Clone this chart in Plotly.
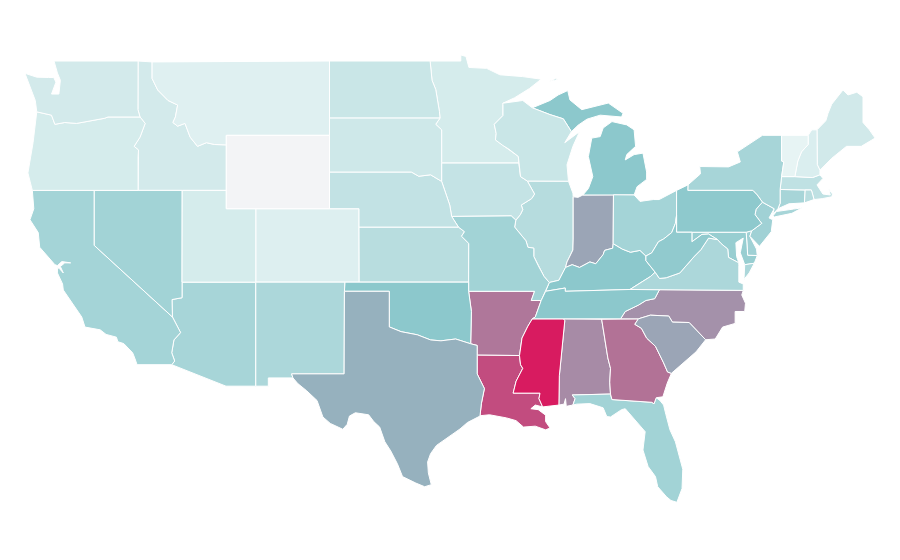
import plotly.graph_objects as go
from plotly.colors import sample_colorscale

states = ["AL","AZ","AR","CA","CO","CT","DE","FL","GA","ID","IL","IN","IA","KS","KY","LA","ME","MD","MA","MI","MN","MS","MO","MT","NE","NV","NH","NJ","NM","NY","NC","ND","OH","OK","OR","PA","RI","SC","SD","TN","TX","UT","VT","VA","WA","WV","WI","WY"]
rates = [61,29,68,30,7,29,32,31,70,11,23,52,17,22,40,83,12,35,19,40,10,100,31,6,18,31,8,32,27,29,59,15,30,40,10,39,22,52,13,40,48,10,3,27,11,38,15,0]

colorscale = [[0,"#f3f4f6"],[0.02,"#e9f5f5"],[0.4,"#8cc8cc"],[1,"#d81b60"]]

# shared borders, lon/lat
miss_mn_wi = [(-92.29,46.66),(-92.29,46.08),(-92.88,45.6),(-92.75,45.1),(-92.8,44.75),(-92.3,44.45),(-91.9,44.25),(-91.25,43.85),(-91.22,43.5)]
miss_ia_wi = [(-91.22,43.5),(-91.1,42.75),(-90.64,42.51)]
miss_ia_il = [(-90.64,42.51),(-90.15,41.8),(-90.35,41.55),(-91.05,41.2),(-90.95,40.95),(-91.12,40.67),(-91.42,40.38)]
miss_mo_il = [(-91.42,40.38),(-91.5,40.0),(-90.73,39.25),(-90.6,38.9),(-90.2,38.85),(-90.2,38.4),(-89.9,37.9),(-89.5,37.3),(-89.15,36.98)]
miss_tn_ar = [(-89.7,36.0),(-90.1,35.1),(-90.3,35.0)]
miss_ms_ar = [(-90.3,35.0),(-90.6,34.6),(-91.0,33.95),(-91.17,33.0)]
miss_ms_la = [(-91.17,33.0),(-91.1,32.5),(-90.95,32.3),(-91.4,31.6),(-91.6,30.95),(-89.78,30.95),(-89.85,30.65),(-89.6,30.2)]
ohio_il_ky = [(-89.15,36.98),(-88.5,37.1),(-88.05,37.8)]
ohio_in_ky = [(-88.05,37.8),(-87.6,37.95),(-87.1,37.8),(-86.4,38.1),(-86.0,38.0),(-85.5,38.5),(-85.4,38.73),(-84.85,38.85),(-84.82,39.1)]
ohio_oh_ky = [(-84.82,39.1),(-84.2,38.8),(-83.65,38.63),(-83.0,38.73),(-82.6,38.42)]
ohio_oh_wv = [(-82.6,38.42),(-82.2,38.6),(-81.75,39.2),(-81.4,39.35),(-80.85,39.7),(-80.6,40.2),(-80.52,40.64)]
wabash = [(-88.05,37.8),(-87.95,38.1),(-87.55,38.75),(-87.53,39.35),(-87.53,41.65)]
missouri_ne_ia = [(-96.45,42.49),(-96.1,41.7),(-95.9,41.2),(-95.77,40.58)]
missouri_ne_mo = [(-95.77,40.58),(-95.31,40.0)]
missouri_ks_mo = [(-95.31,40.0),(-94.9,39.75),(-95.1,39.5),(-94.61,39.11),(-94.62,37.0)]
columbia = [(-116.9,46.0),(-119.07,46.0),(-119.3,45.93),(-120.1,45.8),(-121.2,45.65),(-122.0,45.7),(-122.67,45.6),(-122.9,46.1),(-123.5,46.2),(-123.9,46.28)]
snake = [(-117.03,42.0),(-117.03,43.83),(-117.0,44.2),(-117.3,44.4),(-116.9,44.9),(-116.55,45.65),(-116.9,46.0)]
colorado = [(-114.05,36.15),(-114.73,36.05),(-114.7,35.1),(-114.15,34.25),(-114.6,33.85),(-114.75,33.15),(-114.55,32.7),(-114.75,32.5)]
red_river = [(-100.0,34.56),(-99.2,34.3),(-98.1,34.13),(-97.2,33.85),(-96.5,33.8),(-95.5,33.9),(-94.48,33.64)]
savannah = [(-83.11,35.0),(-83.35,34.7),(-82.9,34.48),(-82.55,33.95),(-81.95,33.5),(-81.4,32.6),(-81.13,32.1),(-80.87,32.03)]
id_mt = [(-116.08,49.0),(-116.08,48.1),(-115.7,47.47),(-115.0,46.9),(-114.35,46.65),(-114.5,46.0),(-114.67,45.7),(-114.35,45.5),(-113.85,45.65),(-113.5,44.9),(-113.0,44.4),(-112.4,44.6),(-111.85,44.5),(-111.05,44.48)]
smokies = [(-84.32,35.0),(-84.0,35.4),(-83.1,35.75),(-82.6,36.0),(-82.0,36.1),(-81.68,36.59)]
nc_sc = [(-83.11,35.0),(-82.3,35.2),(-81.05,35.15),(-80.8,34.82),(-79.67,34.8),(-78.55,33.86)]
va_wv = [(-77.75,39.32),(-78.35,39.4),(-78.87,38.77),(-79.3,38.42),(-80.3,37.5),(-81.22,37.24),(-81.68,37.2),(-81.97,37.54)]
md_wv = [(-79.48,39.72),(-79.48,39.2),(-78.8,39.6),(-78.35,39.62),(-77.75,39.32)]
potomac = [(-77.75,39.32),(-77.5,39.1),(-77.05,38.8),(-77.0,38.35),(-76.3,38.05)]
ky_wv = [(-81.97,37.54),(-82.6,38.17),(-82.6,38.42)]
ky_va = [(-83.68,36.6),(-83.1,36.9),(-82.3,37.3),(-81.97,37.54)]
delaware_river = [(-74.7,41.36),(-75.13,40.97),(-75.2,40.68),(-74.75,40.2),(-75.42,39.8)]
ny_pa = [(-79.75,42.3),(-79.76,42.0),(-75.35,42.0),(-75.05,41.75),(-74.7,41.36)]
vt_nh = [(-71.6,45.0),(-71.6,44.5),(-72.05,44.1),(-72.3,43.6),(-72.5,42.75)]
mi_wi = [(-90.3,46.5),(-89.1,46.13),(-88.2,45.9),(-87.95,45.55),(-87.65,45.2)]

outlines = {
    "WA": [[(-124.7,48.38),(-123.9,48.17),(-123.1,48.15),(-122.75,48.15),(-122.6,47.9),(-122.9,47.25),(-122.4,47.25),(-122.35,47.7),(-122.3,48.0),(-122.5,48.4),(-122.73,49.05),(-117.03,49.05),(-117.04,46.4)] + columbia + [(-124.0,46.9),(-124.2,47.3)]],
    "OR": [columbia[::-1] + snake[::-1] + [(-124.2,42.0),(-124.5,42.95),(-124.15,44.6),(-123.95,46.0)]],
    "ID": [[(-117.03,49.05)] + id_mt + [(-111.05,42.0)] + snake + [(-117.04,46.4)]],
    "MT": [id_mt + [(-111.05,45.0),(-104.05,45.0),(-104.05,49.05)]],
    "WY": [[(-111.05,45.0),(-104.05,45.0),(-104.05,41.0),(-111.05,41.0)]],
    "ND": [[(-104.05,49.05),(-97.23,49.05),(-97.1,48.0),(-96.85,47.5),(-96.6,46.3),(-96.56,45.94),(-104.05,45.94)]],
    "SD": [[(-104.05,45.94),(-96.56,45.94),(-96.85,45.6),(-96.45,45.3),(-96.45,43.5),(-96.45,42.49),(-97.2,42.85),(-98.0,42.77),(-98.5,43.0),(-104.05,43.0)]],
    "NE": [[(-104.05,43.0),(-98.5,43.0),(-98.0,42.77),(-97.2,42.85)] + missouri_ne_ia + missouri_ne_mo + [(-102.05,40.0),(-102.05,41.0),(-104.05,41.0)]],
    "KS": [missouri_ks_mo + [(-102.04,37.0),(-102.05,40.0)]],
    "CO": [[(-109.05,41.0),(-102.05,41.0),(-102.05,40.0),(-102.04,37.0),(-103.0,37.0),(-109.05,37.0)]],
    "UT": [[(-114.04,42.0),(-111.05,42.0),(-111.05,41.0),(-109.05,41.0),(-109.05,37.0),(-114.05,37.0)]],
    "NV": [[(-120.0,42.0),(-114.04,42.0),(-114.05,37.0)] + colorado[:3] + [(-120.0,39.0)]],
    "CA": [[(-124.2,42.0),(-120.0,42.0),(-120.0,39.0)] + colorado[2:] + [(-117.1,32.5),(-117.25,32.85),(-117.4,33.15),(-118.0,33.65),(-118.4,33.75),(-118.5,34.0),(-119.2,34.15),(-119.6,34.4),(-120.63,34.55),(-120.85,35.1),(-121.9,36.3),(-122.1,36.57),(-122.15,36.9),(-122.5,37.5),(-122.5,37.78),(-122.38,37.75),(-122.1,37.5),(-122.3,37.85),(-122.0,38.05),(-121.6,38.05),(-122.2,38.12),(-122.5,37.9),(-122.67,37.95),(-123.7,38.9),(-123.8,39.7),(-124.36,40.4),(-124.1,41.0)]],
    "AZ": [[(-114.05,37.0),(-109.05,37.0),(-109.05,31.33),(-111.07,31.33)] + colorado[::-1]],
    "NM": [[(-109.05,37.0),(-103.0,37.0),(-103.04,36.5),(-103.06,32.0),(-106.62,32.0),(-106.53,31.78),(-108.2,31.78),(-108.2,31.33),(-109.05,31.33)]],
    "TX": [[(-106.62,32.0),(-103.06,32.0),(-103.04,36.5),(-100.0,36.5)] + red_river + [(-94.04,33.55),(-94.04,33.02),(-94.04,32.0),(-93.55,31.2),(-93.75,30.4),(-93.85,29.7),(-94.7,29.35),(-95.2,29.0),(-96.0,28.55),(-96.8,28.1),(-97.2,27.65),(-97.4,27.2),(-97.35,26.6),(-97.15,25.96),(-97.6,25.85),(-98.2,26.05),(-99.1,26.4),(-99.45,27.1),(-99.9,27.8),(-100.3,28.3),(-100.65,29.1),(-101.05,29.4),(-101.4,29.77),(-102.3,29.88),(-102.7,29.7),(-102.85,29.25),(-103.15,28.98),(-104.0,29.3),(-104.5,29.65),(-104.9,30.55),(-105.6,31.08),(-106.2,31.47),(-106.53,31.78)]],
    "OK": [[(-103.0,37.0),(-102.04,37.0),(-94.62,37.0),(-94.62,36.5),(-94.43,35.4)] + red_river[::-1] + [(-100.0,36.5),(-103.04,36.5)]],
    "MO": [[(-95.77,40.58),(-91.73,40.61)] + miss_mo_il + [(-89.4,36.5),(-89.7,36.0),(-90.37,36.0),(-90.15,36.5),(-94.62,36.5)] + missouri_ks_mo[::-1] + missouri_ne_mo[::-1]],
    "AR": [[(-94.62,36.5),(-90.15,36.5),(-90.37,36.0)] + miss_tn_ar + miss_ms_ar + [(-94.04,33.02),(-94.04,33.55),(-94.48,33.64),(-94.43,35.4)]],
    "LA": [[(-94.04,33.02)] + miss_ms_la + [(-90.1,30.3),(-90.4,30.1),(-89.9,30.05),(-89.65,29.9),(-89.4,29.75),(-89.4,29.4),(-89.1,29.05),(-89.4,28.95),(-90.1,29.15),(-90.9,29.1),(-91.4,29.45),(-92.05,29.6),(-93.2,29.77),(-93.85,29.72),(-93.75,30.4),(-93.55,31.2),(-94.04,32.0)]],
    "MS": [miss_ms_ar + miss_ms_la[1:] + [(-88.5,30.3),(-88.47,31.9),(-88.1,34.9),(-88.2,35.0)]],
    "AL": [[(-88.2,35.0),(-85.6,34.98),(-85.18,32.87),(-85.0,32.3),(-85.05,31.55),(-85.0,30.9),(-87.6,30.85),(-87.4,30.65),(-87.55,30.3),(-88.0,30.23),(-88.05,30.65),(-88.15,30.35),(-88.5,30.3),(-88.47,31.9),(-88.1,34.9)]],
    "GA": [[(-85.6,34.98),(-84.32,35.0)] + savannah + [(-81.15,31.5),(-81.45,30.75),(-81.9,30.7),(-82.05,30.37),(-82.2,30.45),(-84.9,30.6),(-85.0,30.9),(-85.05,31.55),(-85.0,32.3),(-85.18,32.87)]],
    "FL": [[(-87.6,30.85),(-85.0,30.9),(-84.9,30.6),(-82.2,30.45),(-82.05,30.37),(-81.9,30.7),(-81.65,30.55),(-81.4,30.3),(-81.25,29.8),(-80.97,28.95),(-80.6,28.3),(-80.35,27.5),(-80.1,26.8),(-80.15,25.75),(-80.5,25.0),(-80.9,25.1),(-81.2,25.3),(-81.8,25.85),(-81.95,26.4),(-82.45,26.95),(-82.8,27.85),(-82.65,28.85),(-83.4,29.55),(-84.0,30.1),(-84.25,30.05),(-85.0,29.65),(-85.25,29.67),(-85.5,30.15),(-86.4,30.38),(-87.3,30.35),(-87.55,30.3),(-87.4,30.65)]],
    "SC": [nc_sc + [(-79.2,33.2),(-79.9,32.7),(-80.45,32.35)] + savannah[::-1]],
    "NC": [[(-84.32,35.0)] + nc_sc + [(-77.9,33.9),(-77.4,34.55),(-76.55,34.75),(-76.55,35.4),(-75.9,35.4),(-75.85,35.85),(-76.1,36.3),(-76.0,36.55)] + smokies[::-1]],
    "TN": [[(-90.3,35.0),(-88.2,35.0),(-85.6,34.98)] + smokies + [(-83.68,36.6),(-88.07,36.5),(-88.07,36.68),(-89.4,36.5)] + miss_tn_ar],
    "KY": [[(-89.4,36.5),(-88.07,36.68),(-88.07,36.5)] + ky_va + ky_wv + ohio_oh_ky[::-1] + ohio_in_ky[::-1] + ohio_il_ky[::-1]],
    "IL": [[(-90.64,42.51),(-87.85,42.5),(-87.55,41.85)] + wabash[::-1] + ohio_il_ky[::-1] + miss_mo_il[::-1] + miss_ia_il[::-1]],
    "IN": [[(-87.53,41.65),(-87.2,41.62),(-86.87,41.75),(-84.8,41.76)] + ohio_in_ky[::-1] + wabash],
    "OH": [[(-84.8,41.76),(-83.4,41.75),(-83.0,41.4),(-82.1,41.5),(-81.7,41.5),(-80.52,42.0)] + ohio_oh_wv[::-1] + ohio_oh_ky[::-1]],
    "MI": [[(-86.87,41.75),(-84.8,41.76),(-83.4,41.75),(-83.2,42.2),(-82.55,42.6),(-82.55,43.0),(-82.8,44.03),(-83.4,43.95),(-84.0,43.66),(-83.9,43.95),(-83.3,44.4),(-83.4,45.3),(-83.9,45.57),(-84.9,45.75),(-85.5,45.4),(-85.7,44.93),(-86.27,44.85),(-86.5,43.84),(-86.2,42.75),(-86.5,42.1)],
           mi_wi + [(-87.2,45.55),(-86.6,45.88),(-85.7,46.1),(-84.25,46.0),(-84.15,46.2),(-85.15,46.76),(-86.95,46.4),(-87.75,46.93),(-87.9,47.44),(-88.55,47.2),(-89.1,46.9)],
           [(-89.15,47.93),(-88.7,48.1),(-88.6,48.05)]],
    "WI": [[(-92.29,46.66),(-92.3,46.75),(-91.2,46.87),(-90.95,46.9)] + mi_wi + [(-88.1,44.6),(-87.1,45.2),(-87.55,44.4),(-87.95,43.4),(-87.85,42.5)] + miss_ia_wi[::-1] + miss_mn_wi[::-1]],
    "MN": [[(-97.23,49.05),(-95.15,49.05),(-95.15,49.38),(-94.8,49.3),(-94.6,48.7),(-93.4,48.65),(-92.5,48.3),(-90.95,48.2),(-89.7,48.06),(-90.5,47.55),(-91.5,47.05),(-92.3,46.75)] + miss_mn_wi + [(-96.45,43.5),(-96.45,45.3),(-96.85,45.6),(-96.56,45.94),(-96.6,46.3),(-96.85,47.5),(-97.1,48.0)]],
    "IA": [[(-96.45,43.5)] + miss_ia_wi + miss_ia_il[1:] + [(-91.73,40.61)] + missouri_ne_ia[::-1]],
    "NY": [ny_pa + [(-73.9,41.0),(-74.0,40.7),(-73.65,41.0),(-73.5,41.3),(-73.5,42.05),(-73.4,42.75),(-73.25,43.55),(-73.4,43.6),(-73.4,45.0),(-74.7,45.0),(-75.8,44.4),(-76.4,44.1),(-76.2,43.55),(-77.0,43.28),(-78.95,43.3),(-78.9,42.9)],
           [(-74.0,40.6),(-73.75,40.85),(-72.6,40.98),(-72.0,41.05),(-72.7,40.75),(-73.9,40.55)]],
    "PA": [[(-80.52,42.0)] + ny_pa + delaware_river[1:] + [(-75.8,39.72),(-79.48,39.72),(-80.52,39.72)]],
    "NJ": [[(-74.7,41.36),(-73.9,41.0),(-74.25,40.5),(-74.0,40.4),(-74.1,39.75),(-74.9,38.95),(-75.55,39.5)] + delaware_river[::-1][:-1]],
    "DE": [[(-75.8,39.72),(-75.42,39.8),(-75.55,39.5),(-75.1,38.8),(-75.05,38.45),(-75.7,38.46)]],
    "MD": [[(-79.48,39.72),(-75.8,39.72),(-75.7,38.46),(-75.05,38.45),(-75.25,38.03),(-75.9,37.95),(-76.2,38.6),(-76.0,39.4),(-76.5,39.15),(-76.45,38.4)] + potomac[::-1] + md_wv[::-1]],
    "WV": [ohio_oh_wv + [(-80.52,39.72)] + md_wv + va_wv + ky_wv],
    "VA": [ky_va + va_wv[::-1] + potomac[1:] + [(-76.3,37.9),(-76.3,37.0),(-76.0,36.9),(-76.0,36.55)],
           [(-75.25,38.03),(-75.9,37.95),(-75.95,37.15),(-75.6,37.5)]],
    "CT": [[(-73.65,41.0),(-73.5,41.3),(-73.5,42.05),(-71.8,42.02),(-71.85,41.32),(-72.9,41.27)]],
    "RI": [[(-71.8,42.02),(-71.38,42.02),(-71.2,41.5),(-71.85,41.32)]],
    "MA": [[(-73.5,42.05),(-73.4,42.75),(-72.5,42.75),(-71.3,42.7),(-70.8,42.85),(-70.6,42.65),(-71.0,42.3),(-70.6,41.8),(-70.1,41.75),(-70.2,42.07),(-69.95,41.8),(-70.0,41.65),(-70.65,41.55),(-71.2,41.5),(-71.38,42.02),(-71.8,42.02)]],
    "VT": [[(-73.4,45.0)] + vt_nh + [(-73.4,42.75),(-73.25,43.55),(-73.4,43.6)]],
    "NH": [[(-71.6,45.0),(-71.35,45.3),(-71.0,45.3),(-70.98,43.4),(-70.8,43.1),(-70.8,42.85),(-71.3,42.7)] + vt_nh[::-1]],
    "ME": [[(-71.0,45.3),(-70.4,45.8),(-70.25,46.2),(-70.0,46.7),(-69.24,47.47),(-68.9,47.2),(-68.3,47.35),(-67.88,47.1),(-67.88,45.7),(-67.45,45.3),(-67.06,44.85),(-68.0,44.4),(-69.0,44.4),(-70.0,43.75),(-70.8,43.1),(-70.98,43.4)]],
}

fig = go.Figure()
for code, rate in zip(states, rates):
    xs, ys = [], []
    for ring in outlines[code]:
        xs += [p[0] for p in ring] + [ring[0][0], None]
        ys += [p[1] for p in ring] + [ring[0][1], None]
    color = sample_colorscale(colorscale, rate / 100)[0]
    fig.add_trace(go.Scatter(x=xs, y=ys, mode="lines", fill="toself", fillcolor=color,
                             line=dict(color="white", width=1), name=code, showlegend=False))

# body margin of the page pushes the plot 8px right and down, ranges make up for it
fig.update_xaxes(range=[-125.85,-64.83], visible=False)
fig.update_yaxes(range=[21.42,51.94], visible=False)
fig.update_layout(width=900, height=560, margin=dict(l=0, r=0, t=0, b=0),
                  paper_bgcolor="white", plot_bgcolor="white")
fig.write_html("out.html")
